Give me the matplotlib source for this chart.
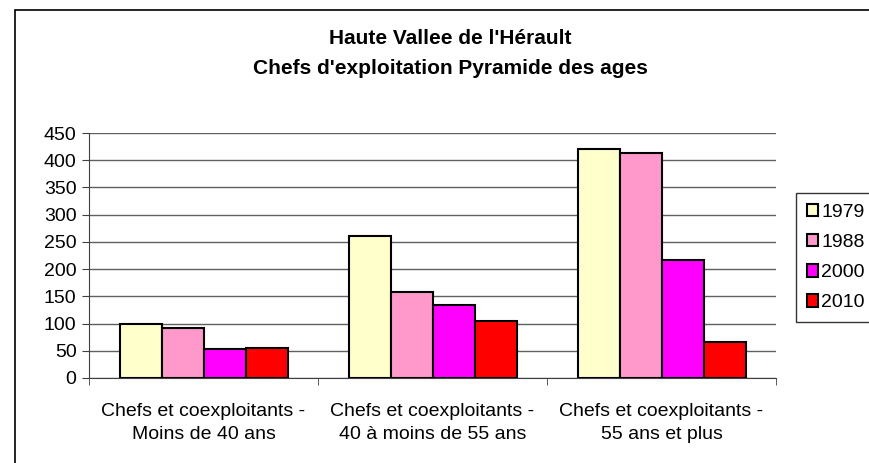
import matplotlib.pyplot as plt
import numpy as np
from matplotlib.patches import Rectangle

plt.rcParams['font.family'] = ['Liberation Sans', 'DejaVu Sans']

categories = [
    "Chefs et coexploitants -\nMoins de 40 ans",
    "Chefs et coexploitants -\n40 à moins de 55 ans",
    "Chefs et coexploitants -\n55 ans et plus",
]
years = ["1979", "1988", "2000", "2010"]
values_1979 = [100, 260, 421]
values_1988 = [92, 158, 413]
values_2000 = [54, 134, 217]
values_2010 = [55, 105, 66]
colors = ["#ffffcc", "#ff99cc", "#ff00ff", "#ff0000"]
yticks = [0, 50, 100, 150, 200, 250, 300, 350, 400, 450]

W, H = 870, 463
fig = plt.figure(figsize=(W / 100, H / 100), dpi=100)

# outer chart frame, right and bottom sides run off the canvas
fig.patches.append(Rectangle((15 / W, -0.05), 1.0, 1 - 10 / H + 0.05,
                             transform=fig.transFigure, fill=False,
                             edgecolor="black", linewidth=1.2))

ax = fig.add_axes([89 / W, (H - 378) / H, (776 - 89) / W, (378 - 133) / H])

series = [values_1979, values_1988, values_2000, values_2010]
x = np.arange(len(categories))
width = 0.183
offset = 0.135
for j, (vals, col, yr) in enumerate(zip(series, colors, years)):
    ax.bar(x + offset + width * (j + 0.5), vals, width, color=col,
           edgecolor="black", linewidth=1.5, label=yr, zorder=3)

ax.set_xlim(0, 3)
ax.set_ylim(0, 450)
ax.set_yticks(yticks)
ax.yaxis.grid(True, color="#606060", linewidth=1, zorder=0)
for s in ["top", "right"]:
    ax.spines[s].set_visible(False)
ax.spines["left"].set_color("#404040")
ax.spines["bottom"].set_color("#404040")

ax.set_xticks(x + 0.5)
ax.set_xticklabels(categories, fontsize=14, linespacing=1.45)
ax.tick_params(axis="x", length=0, pad=18)
ax.set_xticks([0, 1, 2, 3], minor=True)
ax.tick_params(axis="x", which="minor", length=5, color="#404040")
ax.tick_params(axis="y", length=5, color="#404040", labelsize=14, pad=4)

fig.text(450 / W, 1 - 38 / H, "Haute Vallee de l'Hérault", ha="center",
         va="center", fontsize=15, fontweight="bold")
fig.text(450 / W, 1 - 68 / H, "Chefs d'exploitation Pyramide des ages",
         ha="center", va="center", fontsize=15, fontweight="bold")

leg = fig.legend(loc="upper left", bbox_to_anchor=(796 / W, 1 - 193 / H),
                 fontsize=14, frameon=True, fancybox=False, handlelength=0.6,
                 handleheight=0.6, handletextpad=0.15, labelspacing=0.68,
                 borderpad=0.55, borderaxespad=0)
leg.get_frame().set_edgecolor("black")
leg.get_frame().set_linewidth(1)
for h in leg.legend_handles:
    h.set_linewidth(1.5)

fig.savefig("out.png", dpi=100)
